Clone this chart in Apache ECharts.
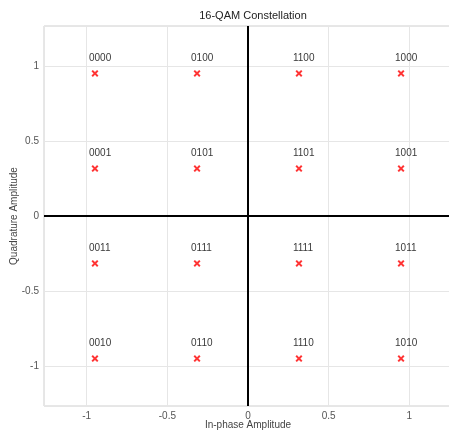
<!DOCTYPE html>
<html>
<head>
<meta charset="utf-8">
<script src="https://cdn.jsdelivr.net/npm/echarts@6/dist/echarts.min.js"></script>
<style>
  html, body { margin: 0; padding: 0; background: #fff; }
  #chart { width: 449px; height: 432px; }
</style>
</head>
<body>
<div id="chart"></div>
<script>
// 16-QAM points (normalised, gray coded)
var pointI = [-0.949, -0.316, 0.316, 0.949,
              -0.949, -0.316, 0.316, 0.949,
              -0.949, -0.316, 0.316, 0.949,
              -0.949, -0.316, 0.316, 0.949]
var pointQ = [0.949, 0.949, 0.949, 0.949,
              0.316, 0.316, 0.316, 0.316,
              -0.316, -0.316, -0.316, -0.316,
              -0.949, -0.949, -0.949, -0.949]
var pointBits = ['0000', '0100', '1100', '1000',
                 '0001', '0101', '1101', '1001',
                 '0011', '0111', '1111', '1011',
                 '0010', '0110', '1110', '1010']
var tickValues = [-1, -0.5, 0, 0.5, 1]

var font = 'Liberation Sans, Arial, sans-serif'
var crossPath = 'path://M0,2L2,0L5,3L8,0L10,2L7,5L10,8L8,10L5,7L2,10L0,8L3,5Z'

var chart = echarts.init(document.getElementById('chart'))

var data = []
for (var i = 0; i < pointI.length; i++) {
	data.push({ name: pointBits[i], value: [pointI[i], pointQ[i]] })
}

function tickLabel(v) {
	// only show the nice ticks, not the axis ends
	for (var k = 0; k < tickValues.length; k++) {
		if (Math.abs(v - tickValues[k]) < 1e-6) return String(tickValues[k])
	}
	return ''
}

var option = {
	animation: false,
	title: {
		text: '16-QAM Constellation',
		left: 248,
		textAlign: 'center',
		top: 5,
		textStyle: { fontFamily: font, fontSize: 11, fontWeight: 'normal', color: '#222' }
	},
	grid: {
		left: 44,
		right: -3,
		top: 26,
		bottom: 26,
		outerBoundsMode: 'none',
		containLabel: false,
		show: true,
		borderColor: '#cfcfcf',
		borderWidth: 1
	},
	xAxis: {
		type: 'value',
		min: -1.265,
		max: 1.265,
		name: 'In-phase Amplitude',
		nameLocation: 'middle',
		nameGap: 14,
		nameMoveOverlap: false,
		nameTextStyle: { fontFamily: font, fontSize: 10, color: '#444' },
		axisLine: { show: false },
		axisTick: { show: false },
		axisLabel: {
			fontFamily: font, fontSize: 10, color: '#555', margin: 5,
			formatter: tickLabel
		},
		splitLine: { show: true, lineStyle: { color: '#e6e6e6', width: 1 } }
	},
	yAxis: {
		type: 'value',
		min: -1.265,
		max: 1.265,
		name: 'Quadrature Amplitude',
		nameLocation: 'middle',
		nameGap: 25,
		nameMoveOverlap: false,
		nameTextStyle: { fontFamily: font, fontSize: 10, color: '#444' },
		axisLine: { show: false },
		axisTick: { show: false },
		axisLabel: {
			fontFamily: font, fontSize: 10, color: '#555', margin: 5,
			formatter: tickLabel
		},
		splitLine: { show: true, lineStyle: { color: '#e6e6e6', width: 1 } }
	},
	series: [
		{
			type: 'scatter',
			symbol: crossPath,
			symbolSize: 7,
			itemStyle: { color: '#ff0000' },
			label: {
				show: true,
				formatter: '{b}',
				position: [-2.5, -11.5],
				align: 'left',
				verticalAlign: 'middle',
				fontFamily: font,
				fontSize: 10,
				color: '#000'
			},
			data: data,
			markLine: {
				silent: true,
				symbol: 'none',
				label: { show: false },
				lineStyle: { color: '#000', width: 2, type: 'solid' },
				data: [{ xAxis: 0 }, { yAxis: 0 }]
			},
			z: 3
		}
	]
}

chart.setOption(option)
</script>
</body>
</html>
